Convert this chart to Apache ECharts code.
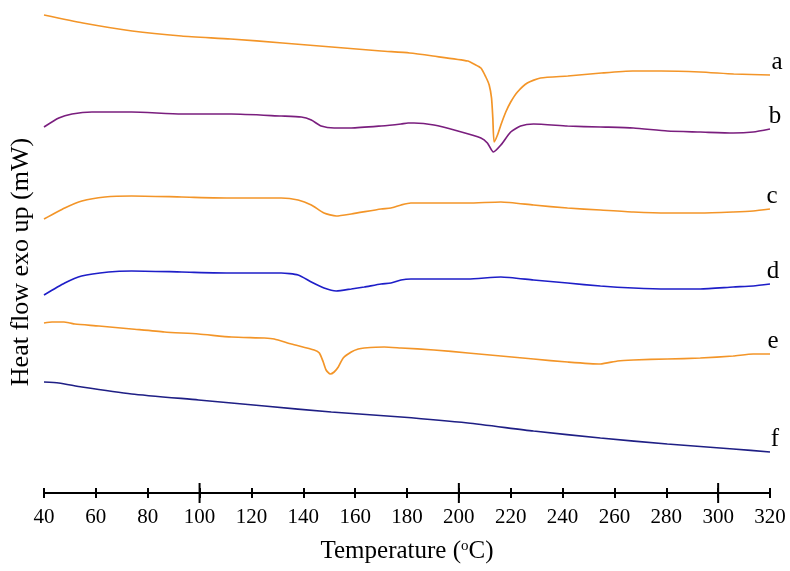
<!DOCTYPE html>
<html>
<head>
<meta charset="utf-8">
<script src="https://cdn.jsdelivr.net/npm/echarts@6/dist/echarts.min.js"></script>
<style>
html,body{margin:0;padding:0;background:#fff;}
#chart{width:790px;height:571px;}
</style>
</head>
<body>
<div id="chart"></div>
<script>
// Temperature (°C) and heat flow (arbitrary mW units)
const tempA = [40, 55, 74, 93, 112, 132, 151, 170, 181, 190, 203.5, 205.8, 208.5, 210.4, 211.7, 212.6, 213.1, 213.6, 214.9, 216.2, 218.1, 220, 222.6, 226.4, 231.5, 242, 255, 267, 278, 293, 306, 320];
const heatA = [47.8, 47.0, 46.2, 45.7, 45.4, 45.0, 44.6, 44.2, 44.0, 43.7, 43.2, 42.9, 42.5, 41.6, 40.8, 39.5, 37.5, 35.1, 35.8, 36.8, 38.1, 39.1, 40.1, 41.0, 41.5, 41.7, 42.0, 42.2, 42.2, 42.1, 41.9, 41.8];

const tempB = [40, 45.7, 50.8, 58.5, 73.8, 93.1, 112.3, 131.5, 139.2, 143.1, 146.9, 151.9, 158.5, 170, 177.7, 180.4, 182.7, 190.4, 199.6, 208.5, 211, 213.3, 216.2, 220, 223.8, 228.8, 241.9, 254.6, 267.3, 280.4, 293.1, 305.8, 313.5, 320];
const heatB = [36.6, 37.5, 37.9, 38.1, 38.1, 37.9, 37.9, 37.7, 37.6, 37.3, 36.7, 36.5, 36.5, 36.7, 36.9, 37.0, 37.0, 36.8, 36.2, 35.5, 35.0, 34.1, 34.8, 36.1, 36.7, 36.9, 36.7, 36.6, 36.5, 36.2, 36.1, 36.0, 36.1, 36.4];

const tempC = [40, 48, 54.6, 63.5, 73.8, 93.1, 112.3, 131.5, 138, 143.1, 148, 152.7, 158.5, 170, 173.8, 177.7, 181.5, 190.4, 203.5, 216.2, 228.8, 241.9, 254.6, 267.3, 280.4, 293.1, 305.8, 313.5, 320];
const heatC = [27.4, 28.5, 29.2, 29.6, 29.7, 29.6, 29.5, 29.5, 29.3, 28.8, 28.0, 27.7, 27.9, 28.4, 28.5, 28.8, 29.0, 29.0, 29.0, 29.1, 28.8, 28.5, 28.3, 28.1, 28.0, 28.0, 28.1, 28.2, 28.4];

const tempD = [40, 48, 54.5, 64.9, 73.8, 93.1, 112.3, 131.5, 138, 143.1, 148, 152.7, 158.5, 163.5, 170, 173.8, 177.7, 181.5, 190.4, 203.5, 216.2, 228.8, 241.9, 254.6, 267.3, 280.4, 293.1, 305.8, 313.5, 320];
const heatD = [19.8, 21.0, 21.7, 22.1, 22.2, 22.1, 22.0, 22.0, 21.8, 21.1, 20.5, 20.2, 20.4, 20.6, 20.9, 21.0, 21.3, 21.4, 21.4, 21.4, 21.6, 21.3, 21.0, 20.7, 20.5, 20.4, 20.4, 20.6, 20.7, 20.9];

const tempE = [40, 43.1, 47.7, 50, 51.9, 61.2, 73.8, 86.5, 99.6, 112.3, 125, 128.8, 135.4, 144.2, 146.2, 147.7, 148.8, 150.4, 151.9, 153.5, 155.4, 158.5, 161.2, 163.5, 171.2, 177.7, 190.4, 203.5, 216.2, 228.8, 241.9, 254.6, 261.2, 267.3, 280.4, 293.1, 305.8, 313.5, 320];
const heatE = [17.0, 17.1, 17.1, 17.0, 16.9, 16.7, 16.4, 16.1, 15.9, 15.6, 15.5, 15.4, 14.9, 14.3, 14.0, 13.1, 12.3, 11.9, 12.1, 12.6, 13.5, 14.1, 14.4, 14.5, 14.6, 14.5, 14.3, 14.0, 13.7, 13.4, 13.1, 12.9, 13.2, 13.3, 13.4, 13.5, 13.7, 13.9, 13.9];

const tempF = [40, 45.7, 54.6, 73.8, 99.6, 125, 150.8, 177.7, 203.5, 228.8, 254.6, 280.4, 305.8, 320];
const heatF = [11.1, 11.0, 10.6, 9.9, 9.3, 8.7, 8.1, 7.6, 7.0, 6.2, 5.5, 4.9, 4.4, 4.1];

const curveLabels = ['a', 'b', 'c', 'd', 'e', 'f'];
const majorTicks = [100, 200, 300];

const FONT = "'Liberation Serif', 'Times New Roman', serif";
const ORANGE = '#F39528';
const colors = [ORANGE, '#7A1E7E', ORANGE, '#1E1EC8', ORANGE, '#1F1F85'];
const labelOffsets = [[7, -13], [5, -13], [2, -13], [3, -13], [3, -13], [5, -13]];

const temps = [tempA, tempB, tempC, tempD, tempE, tempF];
const heats = [heatA, heatB, heatC, heatD, heatE, heatF];

function zip(xs, ys) { return xs.map((x, i) => [x, ys[i]]); }

const lineSeries = temps.map((t, i) => ({
  type: 'line',
  name: curveLabels[i],
  data: zip(t, heats[i]),
  showSymbol: false,
  smooth: 0.2,
  lineStyle: { color: colors[i], width: 1.7 },
  silent: true,
  endLabel: {
    show: true,
    formatter: curveLabels[i],
    fontFamily: FONT,
    fontSize: 25,
    color: '#000',
    align: 'center',
    verticalAlign: 'middle',
    distance: 0,
    offset: labelOffsets[i]
  }
}));

const Y_MIN = 0, Y_MAX = 49;

const chart = echarts.init(document.getElementById('chart'), null, { renderer: 'canvas' });
chart.setOption({
  animation: false,
  backgroundColor: '#fff',
  grid: { left: 42, right: 20, top: 3, bottom: 78, containLabel: false },
  xAxis: [{
    type: 'value', min: 40, max: 320, interval: 20,
    axisLine: { show: true, lineStyle: { color: '#000', width: 2 } },
    axisTick: { show: true, inside: false, length: 5, lineStyle: { color: '#000', width: 2 } },
    axisLabel: { show: true, interval: 0, margin: 14, color: '#000', fontFamily: FONT, fontSize: 21, showMinLabel: true, showMaxLabel: true },
    splitLine: { show: false },
    name: 'Temperature ({sup|o}C)',
    nameLocation: 'middle',
    nameGap: 46,
    nameTextStyle: {
      color: '#000', fontFamily: FONT, fontSize: 25,
      rich: { sup: { fontSize: 15, fontFamily: FONT, color: '#000', verticalAlign: 'top', padding: [0, 0, 10, 0] } }
    }
  }, {
    type: 'value', min: 40, max: 320, interval: 20, gridIndex: 0, position: 'bottom',
    axisLine: { show: false },
    axisTick: { show: true, inside: true, length: 5, lineStyle: { color: '#000', width: 2 } },
    axisLabel: { show: false },
    splitLine: { show: false }
  }],
  yAxis: {
    type: 'value', min: Y_MIN, max: Y_MAX,
    axisLine: { show: false }, axisTick: { show: false }, axisLabel: { show: false }, splitLine: { show: false },
    name: 'Heat flow exo up (mW)',
    nameLocation: 'middle',
    nameGap: 10,
    nameTextStyle: { color: '#000', fontFamily: FONT, fontSize: 26, padding: [0, 28, 0, 0] }
  },
  series: lineSeries.concat([{
    type: 'custom',
    silent: true,
    clip: false,
    data: majorTicks.map(v => [v, Y_MIN]),
    renderItem: function (params, api) {
      const p = api.coord([api.value(0), api.value(1)]);
      return {
        type: 'line',
        shape: { x1: p[0], y1: p[1] - 10, x2: p[0], y2: p[1] + 10 },
        style: { stroke: '#000', lineWidth: 2 }
      };
    }
  }])
});
</script>
</body>
</html>
